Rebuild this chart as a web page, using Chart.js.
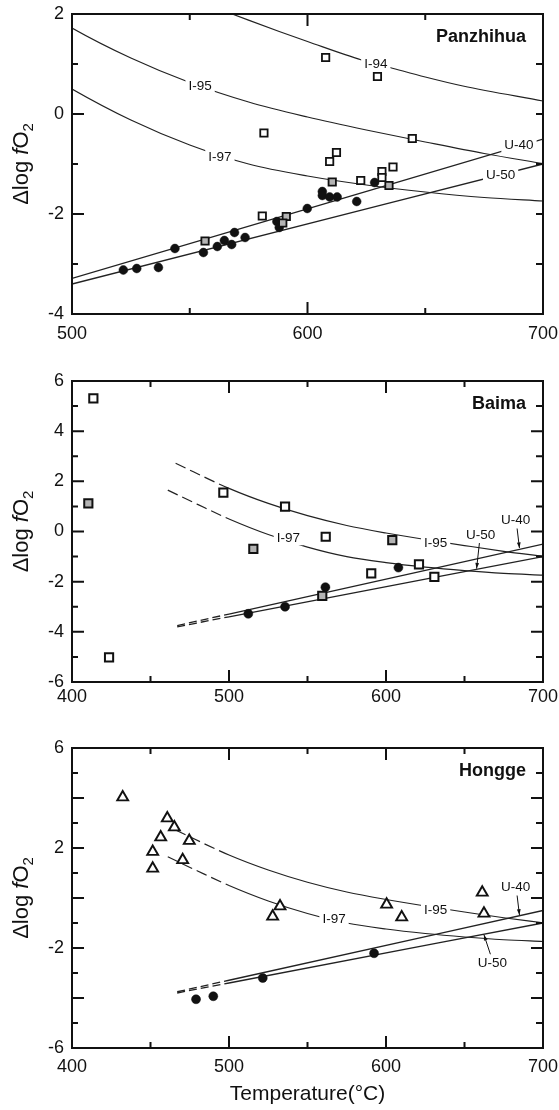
<!DOCTYPE html>
<html>
<head>
<meta charset="utf-8">
<script src="https://cdn.jsdelivr.net/npm/chart.js@4.4.1/dist/chart.umd.min.js"></script>
<style>
  html, body { margin: 0; padding: 0; background: #fff; }
  #wrap { position: relative; width: 559px; height: 1110px; }
  canvas { position: absolute; left: 0; }
</style>
</head>
<body>
<div id="wrap">
  <canvas id="pzh" width="559" height="350" style="top:0"></canvas>
  <canvas id="bm" width="559" height="370" style="top:350px"></canvas>
  <canvas id="hg" width="559" height="390" style="top:720px"></canvas>
</div>
<script>
// samples: [temperature °C, Δlog fO2]
const pzhOpen = [[581.5, -0.38], [580.8, -2.04], [607.7, 1.13], [629.7, 0.75], [644.5, -0.49],
  [609.4, -0.95], [612.3, -0.77], [622.6, -1.33], [631.6, -1.15], [631.6, -1.27], [636.3, -1.06]];
const pzhGray = [[556.5, -2.54], [591, -2.05], [589.5, -2.18], [610.5, -1.36], [634.6, -1.43]];
const pzhBlack = [[521.8, -3.12], [527.5, -3.09], [536.7, -3.07], [543.7, -2.69], [555.8, -2.77],
  [561.7, -2.65], [564.7, -2.53], [567.8, -2.61], [569, -2.37], [573.5, -2.47], [587, -2.15],
  [588, -2.27], [599.9, -1.89], [606.3, -1.55], [606.3, -1.63], [609.4, -1.66], [612.6, -1.66],
  [620.9, -1.75], [628.5, -1.37]];

const bmOpen = [[413.6, 5.31], [423.6, -5.02], [496.4, 1.55], [535.7, 0.99], [561.6, -0.21],
  [621, -1.31], [590.6, -1.67], [630.8, -1.81]];
const bmGray = [[410.4, 1.12], [515.5, -0.69], [604, -0.34], [559.4, -2.57]];
const bmBlack = [[512.3, -3.28], [535.7, -3.0], [561.4, -2.22], [607.9, -1.44]];

const hgTri = [[432.3, 4.03], [451.4, 1.85], [451.4, 1.18], [456.5, 2.43], [460.7, 3.19],
  [465.2, 2.83], [474.7, 2.29], [470.5, 1.52], [527.8, -0.74], [532.5, -0.33], [600.4, -0.26],
  [610, -0.77], [661.3, 0.22], [662.4, -0.62]];
const hgBlack = [[479, -4.05], [490, -3.93], [521.5, -3.2], [592.4, -2.21]];

// buffer curves, shared by the three panels
const i94T = [568, 588, 600, 623, 635, 650, 666, 700];
const i94V = [2.0, 1.65, 1.45, 1.08, 0.93, 0.74, 0.56, 0.26];
const i95T = [466, 500, 525, 550, 575, 600, 625, 650, 675, 700];
const i95V = [2.72, 1.72, 1.12, 0.63, 0.24, -0.06, -0.32, -0.56, -0.79, -0.99];
const i97T = [461, 480, 500, 525, 550, 575, 600, 625, 650, 675, 700];
const i97V = [1.65, 1.08, 0.5, -0.12, -0.62, -1.0, -1.24, -1.42, -1.56, -1.67, -1.74];
const u40T = [467, 500, 700];
const u40V = [-3.75, -3.29, -0.5];
const u50T = [467, 500, 700];
const u50V = [-3.8, -3.4, -1.0];

// axis ticks and labels
const pzhXTicks = [550, 600, 650];
const pzhXLabels = [500, 600, 700];
const pzhYLabels = [2, 0, -2, -4];
const wideXTicks = [450, 500, 550, 600, 650];
const wideXLabels = [400, 500, 600, 700];
const bmYLabels = [6, 4, 2, 0, -2, -4, -6];
const hgYLabels = [6, 2, -2, -6];

const FONT = "'Liberation Sans', Arial, Helvetica, sans-serif";
const INK = '#111';

const pts = (arr) => arr.map(([x, y]) => ({ x, y }));
const curve = (t, v) => t.map((x, i) => ({ x, y: v[i] }));

function markers(data, style, fill, r, bw) {
  return {
    type: 'scatter', data: pts(data), pointStyle: style, pointRadius: r, pointHoverRadius: r,
    backgroundColor: fill, borderColor: INK, borderWidth: bw, order: 1
  };
}

function line(t, v, width, dash) {
  return {
    type: 'line', data: curve(t, v), pointRadius: 0, borderColor: '#222', borderWidth: width,
    cubicInterpolationMode: 'monotone', fill: false, order: 2,
    // below 500 °C the curves are extrapolated, drawn dashed
    segment: { borderDash: (ctx) => (ctx.p1.parsed.x <= 500 ? dash : undefined) }
  };
}

const panels = [
  {
    canvas: 'pzh', name: 'Panzhihua', h: 350, top: 14, bottom: 314, xPad: 9,
    xMin: 500, yMin: -4, yMax: 2, xTicks: pzhXTicks, xLabels: pzhXLabels, yLabels: pzhYLabels,
    rightMajor: 7,
    sets: [
      markers(pzhOpen, 'rect', '#fff', 5.2, 1.8),
      markers(pzhGray, 'rect', '#b4b4b4', 5.2, 1.8),
      markers(pzhBlack, 'circle', INK, 4.4, 0.5),
      line(i94T, i94V, 1.2, [11, 5]),
      line(i95T, i95V, 1.2, [11, 5]),
      line(i97T, i97V, 1.2, [11, 5]),
      line(u40T, u40V, 1.3, [8, 4]),
      line(u50T, u50V, 1.3, [8, 4])
    ],
    labels: [['I-94', 629, 1.01], ['I-95', 554.4, 0.56], ['I-97', 562.8, -0.85],
      ['U-40', 689.8, -0.62], ['U-50', 682, -1.21]],
    arrows: []
  },
  {
    canvas: 'bm', name: 'Baima', h: 370, top: 31, bottom: 332, xPad: 4,
    xMin: 400, yMin: -6, yMax: 6, xTicks: wideXTicks, xLabels: wideXLabels, yLabels: bmYLabels,
    rightMajor: 12,
    sets: [
      markers(bmOpen, 'rect', '#fff', 5.8, 2),
      markers(bmGray, 'rect', '#b4b4b4', 5.8, 2),
      markers(bmBlack, 'circle', INK, 4.5, 0.5),
      line(i95T, i95V, 1.2, [11, 5]),
      line(i97T, i97V, 1.2, [11, 5]),
      line(u40T, u40V, 1.3, [8, 4]),
      line(u50T, u50V, 1.3, [8, 4])
    ],
    labels: [['I-95', 631.6, -0.45], ['I-97', 537.8, -0.27], ['U-40', 682.6, 0.46], ['U-50', 660.3, -0.14]],
    arrows: [[683.5, 0.12, 685, -0.66], [659.5, -0.46, 657.7, -1.48]]
  },
  {
    canvas: 'hg', name: 'Hongge', h: 390, top: 28, bottom: 328, xPad: 8,
    xMin: 400, yMin: -6, yMax: 6, xTicks: wideXTicks, xLabels: wideXLabels, yLabels: hgYLabels,
    rightMajor: 12, xTitle: 'Temperature(°C)',
    sets: [
      markers(hgTri, 'triangle', '#fff', 6.3, 1.9),
      markers(hgBlack, 'circle', INK, 4.5, 0.5),
      line(i95T, i95V, 1.2, [11, 5]),
      line(i97T, i97V, 1.2, [11, 5]),
      line(u40T, u40V, 1.3, [8, 4]),
      line(u50T, u50V, 1.3, [8, 4])
    ],
    labels: [['I-95', 631.6, -0.48], ['I-97', 566.9, -0.84], ['U-40', 682.6, 0.45], ['U-50', 667.7, -2.61]],
    arrows: [[683.5, 0.1, 685, -0.68], [666.5, -2.25, 662.4, -1.47]]
  }
];

// frame, inward ticks, curve labels and titles
const decor = {
  id: 'decor',
  afterDatasetsDraw(chart) {
    const p = chart.config.options.panel;
    const { ctx, chartArea: a, scales: { x, y } } = chart;
    ctx.save();

    ctx.strokeStyle = INK;
    ctx.fillStyle = INK;
    ctx.lineWidth = 1;
    for (const [x0, y0, x1, y1] of p.arrows) {
      const ax = x.getPixelForValue(x0), ay = y.getPixelForValue(y0);
      const bx = x.getPixelForValue(x1), by = y.getPixelForValue(y1);
      const ang = Math.atan2(by - ay, bx - ax);
      ctx.beginPath();
      ctx.moveTo(ax, ay);
      ctx.lineTo(bx, by);
      ctx.stroke();
      ctx.beginPath();
      ctx.moveTo(bx, by);
      ctx.lineTo(bx - 6 * Math.cos(ang - 0.32), by - 6 * Math.sin(ang - 0.32));
      ctx.lineTo(bx - 6 * Math.cos(ang + 0.32), by - 6 * Math.sin(ang + 0.32));
      ctx.closePath();
      ctx.fill();
    }

    ctx.font = `13.5px ${FONT}`;
    ctx.textAlign = 'center';
    ctx.textBaseline = 'middle';
    for (const [text, lx, ly] of p.labels) {
      const px = x.getPixelForValue(lx), py = y.getPixelForValue(ly);
      const w = ctx.measureText(text).width;
      ctx.fillStyle = '#fff';
      ctx.fillRect(px - w / 2 - 3, py - 7, w + 6, 14);
      ctx.fillStyle = INK;
      ctx.fillText(text, px, py + 0.5);
    }

    ctx.font = `bold 18px ${FONT}`;
    ctx.textAlign = 'right';
    ctx.fillText(p.name, a.right - 17, a.top + 23);

    ctx.lineWidth = 2;
    ctx.strokeRect(a.left, a.top, a.right - a.left, a.bottom - a.top);
    ctx.beginPath();
    for (const v of p.xTicks) {
      const px = x.getPixelForValue(v);
      const len = v % 100 === 0 ? 12 : 6;
      ctx.moveTo(px, a.bottom); ctx.lineTo(px, a.bottom - len);
      ctx.moveTo(px, a.top); ctx.lineTo(px, a.top + len);
    }
    for (let v = p.yMin + 1; v < p.yMax; v++) {
      const py = y.getPixelForValue(v);
      const major = v % 2 === 0;
      ctx.moveTo(a.left, py); ctx.lineTo(a.left + (major ? 12 : 6), py);
      ctx.moveTo(a.right, py); ctx.lineTo(a.right - (major ? p.rightMajor : 7), py);
    }
    ctx.stroke();
    ctx.restore();
  },
  afterDraw(chart) {
    const p = chart.config.options.panel;
    const { ctx, chartArea: a } = chart;
    ctx.save();
    ctx.fillStyle = INK;
    ctx.textBaseline = 'alphabetic';
    // y title: Δlog fO2, italic f and subscript 2
    ctx.translate(28, (a.top + a.bottom) / 2);
    ctx.rotate(-Math.PI / 2);
    const parts = [['Δlog ', `22px ${FONT}`, 0], ['f', `italic 22px ${FONT}`, 0],
      ['O', `22px ${FONT}`, 0], ['2', `15px ${FONT}`, 5]];
    let total = 0;
    for (const [t, f] of parts) { ctx.font = f; total += ctx.measureText(t).width; }
    let cx = -total / 2;
    ctx.textAlign = 'left';
    for (const [t, f, dy] of parts) {
      ctx.font = f;
      ctx.fillText(t, cx, dy);
      cx += ctx.measureText(t).width;
    }
    ctx.restore();
    if (p.xTitle) {
      ctx.save();
      ctx.fillStyle = INK;
      ctx.font = `21px ${FONT}`;
      ctx.textAlign = 'center';
      ctx.textBaseline = 'alphabetic';
      ctx.fillText(p.xTitle, (a.left + a.right) / 2, a.bottom + 52);
      ctx.restore();
    }
  }
};

for (const p of panels) {
  new Chart(document.getElementById(p.canvas), {
    type: 'scatter',
    data: { datasets: p.sets },
    plugins: [decor],
    options: {
      panel: p,
      responsive: false,
      animation: false,
      events: [],
      layout: { padding: { top: p.top, right: 16, left: 0, bottom: 0 } },
      plugins: { legend: { display: false }, tooltip: { enabled: false } },
      scales: {
        x: {
          type: 'linear', min: p.xMin, max: 700,
          afterBuildTicks: (s) => { s.ticks = p.xLabels.map((value) => ({ value })); },
          afterFit: (s) => { s.height = p.h - p.bottom; s.paddingLeft = 0; s.paddingRight = 0; },
          grid: { display: false, drawTicks: false },
          border: { display: false },
          ticks: { padding: p.xPad, color: INK, autoSkip: false, maxRotation: 0, font: { family: FONT, size: 18 } }
        },
        y: {
          type: 'linear', min: p.yMin, max: p.yMax,
          afterBuildTicks: (s) => { s.ticks = p.yLabels.map((value) => ({ value })); },
          afterFit: (s) => { s.width = 72; s.paddingTop = 0; s.paddingBottom = 0; },
          grid: { display: false, drawTicks: false },
          border: { display: false },
          ticks: { padding: 8, color: INK, autoSkip: false, font: { family: FONT, size: 18 } }
        }
      }
    }
  });
}
</script>
</body>
</html>
